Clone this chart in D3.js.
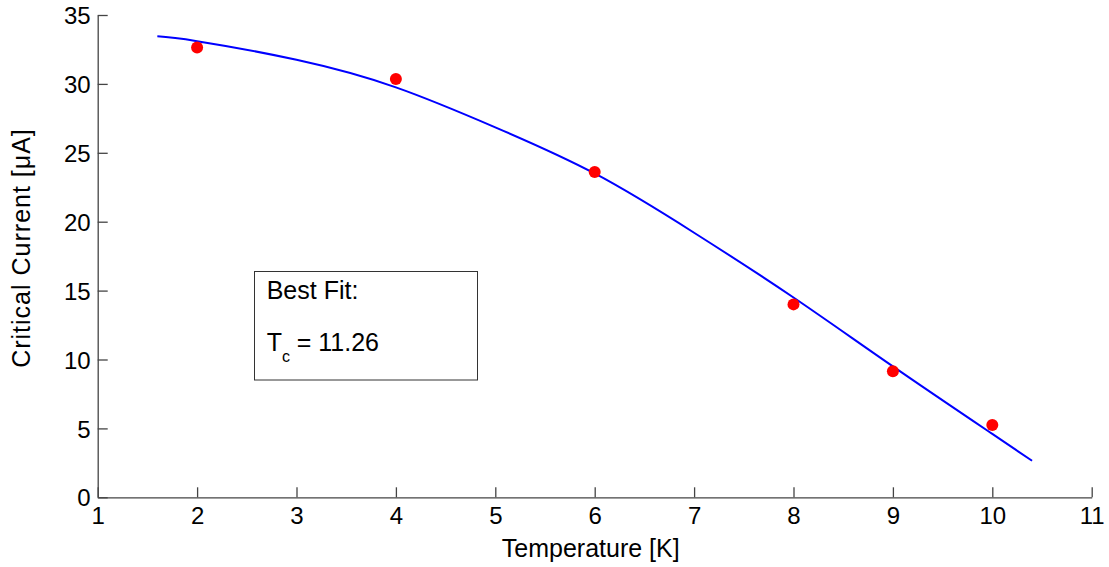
<!DOCTYPE html>
<html><head><meta charset="utf-8">
<script src="https://cdn.jsdelivr.net/npm/d3@7"></script>
<style>body{margin:0;background:#fff}svg{display:block}text{font-family:"Liberation Sans",Arial,sans-serif}</style>
</head><body><svg id="c" width="1109" height="567"></svg>
<script>
const tempData = [2, 4, 6, 8, 9, 10];
const currentData = [32.65, 30.35, 23.6, 14.0, 9.15, 5.25];
const fitTemp = [1.6, 2, 3, 4, 5, 6, 7, 8, 9, 10, 10.4];
const fitCurrent = [33.45, 33.1, 31.75, 29.75, 26.85, 23.5, 19.2, 14.5, 9.5, 4.6, 2.65];
const xTicks = [1,2,3,4,5,6,7,8,9,10,11];
const yTicks = [0,5,10,15,20,25,30,35];
const xTitle = "Temperature [K]";
const yTitle = "Critical Current [\u03BCA]";
const boxLine1 = "Best Fit:";
const tcValue = "11.26";

const svg = d3.select("#c");
const x = d3.scaleLinear().domain([1,11]).range([97.7,1091.7]);
const y = d3.scaleLinear().domain([0,35]).range([497.3,15]);
const axCol = "#444";

const gx = svg.append("g").attr("transform",`translate(0,${y(0)})`)
  .call(d3.axisBottom(x).tickValues(xTicks).tickSizeInner(-10).tickSizeOuter(0).tickPadding(14).tickFormat(d3.format("d")));
const gy = svg.append("g").attr("transform",`translate(${x(1)},0)`)
  .call(d3.axisLeft(y).tickValues(yTicks).tickSizeInner(-10).tickSizeOuter(0).tickPadding(7).tickFormat(d3.format("d")));
[gx,gy].forEach(g=>{
  g.select(".domain").attr("stroke",axCol).attr("stroke-width",1.3);
  g.selectAll(".tick line").attr("stroke",axCol).attr("stroke-width",1.3);
  g.selectAll(".tick text").attr("fill","#000").attr("font-size",24).attr("font-family","Liberation Sans, Arial, sans-serif");
});
gx.selectAll(".tick text").attr("dy","0.71em").attr("y",10);
gy.selectAll(".tick text").attr("x",-7).attr("dy","0.36em");

const line = d3.line().x((d,i)=>x(fitTemp[i])).y((d,i)=>y(fitCurrent[i])).curve(d3.curveNatural);
svg.append("path").datum(fitTemp).attr("d",line).attr("fill","none").attr("stroke","#0000ff").attr("stroke-width",2);

svg.selectAll("circle.pt").data(tempData).enter().append("circle").attr("class","pt")
  .attr("cx",d=>x(d)).attr("cy",(d,i)=>y(currentData[i])).attr("r",6).attr("fill","#ff0000");

svg.append("text").attr("x",(x(1)+x(11))/2 - 4).attr("y",557).attr("text-anchor","middle").attr("font-size",25).text(xTitle);
svg.append("text").attr("transform","translate(30,248) rotate(-90)").attr("text-anchor","middle").attr("font-size",25).attr("letter-spacing",1).text(yTitle);

svg.append("rect").attr("x",254.5).attr("y",271.5).attr("width",223).attr("height",108.5).attr("fill","#fff").attr("stroke","#333").attr("stroke-width",1);
svg.append("text").attr("x",266.7).attr("y",299).attr("font-size",25).text(boxLine1);
const t2 = svg.append("text").attr("x",266.7).attr("y",350.7).attr("font-size",25);
t2.append("tspan").text("T");
t2.append("tspan").attr("font-size",16).attr("dy",11).text("c");
t2.append("tspan").attr("x",296.7).attr("dy",-11).text("= " + tcValue);
</script></body></html>
